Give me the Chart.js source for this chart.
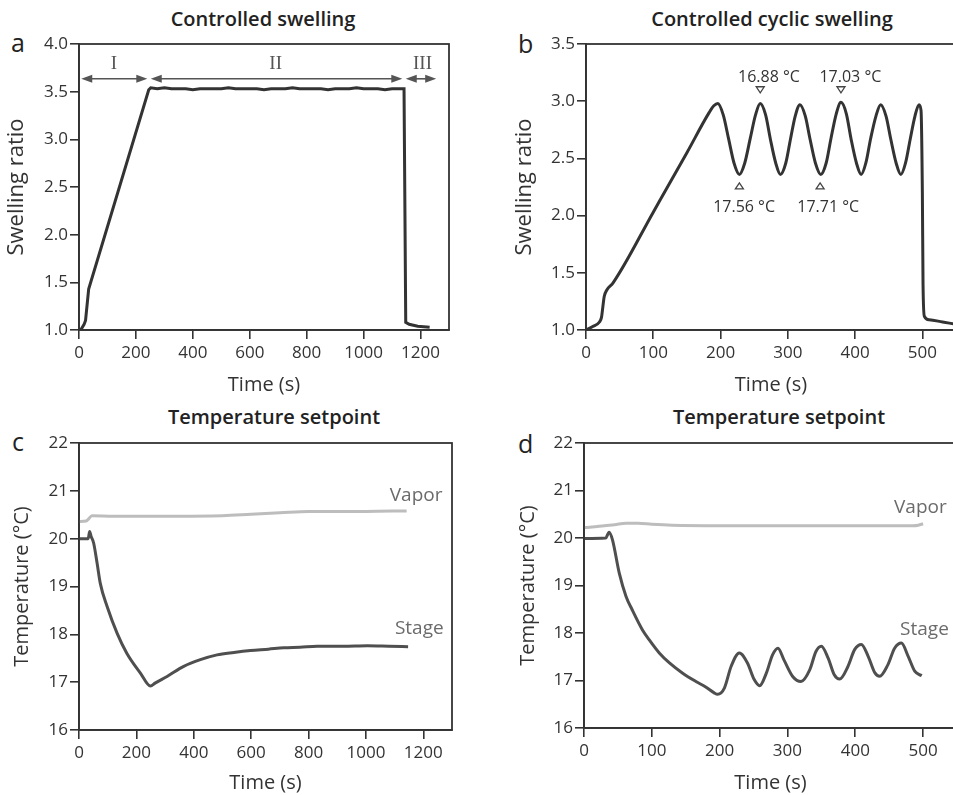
<!DOCTYPE html>
<html>
<head>
<meta charset="utf-8">
<title>Controlled swelling</title>
<script src="https://cdn.jsdelivr.net/npm/chart.js@4.4.1/dist/chart.umd.min.js"></script>
<style>
  html, body { margin: 0; padding: 0; width: 953px; height: 795px; overflow: hidden; background: #fff; }
  canvas { position: absolute; }
  .title { position: absolute; font: 600 20px "Open Sans", sans-serif; color: #222; line-height: 1; white-space: nowrap; transform: translateX(-50%); }
  .tag { position: absolute; font: 25px "Open Sans", sans-serif; color: #222; line-height: 1; }
</style>
</head>
<body>
<div class="tag" style="left:11px; top:30px">a</div>
<div class="tag" style="left:518px; top:31px">b</div>
<div class="tag" style="left:12px; top:429px">c</div>
<div class="tag" style="left:518px; top:431px">d</div>
<div class="title" style="left:263px; top:9px">Controlled swelling</div>
<div class="title" style="left:772px; top:9px">Controlled cyclic swelling</div>
<div class="title" style="left:274px; top:407px">Temperature setpoint</div>
<div class="title" style="left:779px; top:407px">Temperature setpoint</div>

<canvas id="chartA" width="476" height="398" style="left:0; top:0"></canvas>
<canvas id="chartB" width="500" height="398" style="left:476px; top:0"></canvas>
<canvas id="chartC" width="476" height="397" style="left:0; top:398px"></canvas>
<canvas id="chartD" width="500" height="397" style="left:476px; top:398px"></canvas>

<script>
// --- data: [time (s), value] ---
const swellA = [
  [0, 1.00], [8, 1.01], [18, 1.06], [23, 1.10], [34, 1.43], [245, 3.52], [252, 3.54],
  [275, 3.53], [300, 3.54], [325, 3.53], [350, 3.53], [375, 3.53], [400, 3.52], [425, 3.53],
  [450, 3.53], [475, 3.53], [500, 3.53], [525, 3.54], [550, 3.53], [575, 3.53], [600, 3.53],
  [625, 3.53], [650, 3.52], [675, 3.53], [700, 3.53], [725, 3.53], [750, 3.54], [775, 3.53],
  [800, 3.53], [825, 3.53], [850, 3.53], [875, 3.52], [900, 3.53], [925, 3.53], [950, 3.53],
  [975, 3.54], [1000, 3.53], [1025, 3.53], [1050, 3.53], [1075, 3.52], [1100, 3.53], [1125, 3.53],
  [1142, 3.53], [1148, 1.08], [1160, 1.06], [1190, 1.04], [1232, 1.03]
];

const swellB = [
  [0, 1.00], [10, 1.03], [20, 1.07], [23, 1.11], [25, 1.20], [27, 1.29], [31, 1.35], [40, 1.41],
  [100, 2.03], [150, 2.55], [183, 2.90], [190, 2.96], [196, 2.98],
  [204, 2.88], [212, 2.67], [220, 2.46], [228, 2.36],
  [236, 2.46], [244, 2.67], [252, 2.88], [259, 2.98],
  [267, 2.88], [274, 2.67], [282, 2.46], [289, 2.36],
  [297, 2.46], [304, 2.67], [311, 2.87], [318, 2.97],
  [326, 2.87], [333, 2.67], [341, 2.46], [349, 2.36],
  [357, 2.46], [364, 2.67], [372, 2.89], [379, 2.99],
  [387, 2.89], [394, 2.67], [402, 2.46], [409, 2.36],
  [416, 2.46], [423, 2.67], [431, 2.87], [438, 2.97],
  [446, 2.87], [453, 2.67], [461, 2.46], [468, 2.36],
  [475, 2.46], [482, 2.67], [489, 2.87], [495, 2.97], [498, 2.92],
  [500, 2.20], [501, 1.40], [503, 1.12], [510, 1.09], [530, 1.07], [550, 1.05]
];

const vaporC = [
  [0, 20.36], [25, 20.37], [33, 20.41], [45, 20.48], [120, 20.47], [300, 20.47], [500, 20.48],
  [600, 20.51], [700, 20.54], [800, 20.57], [1000, 20.57], [1142, 20.58]
];
const stageC = [
  [0, 20.00], [32, 20.00], [37, 20.15], [42, 20.05], [51, 19.91], [63, 19.49], [74, 19.07],
  [98, 18.58], [133, 18.02], [167, 17.60], [214, 17.19], [249, 16.92], [265, 16.98],
  [307, 17.12], [365, 17.33], [423, 17.47], [481, 17.57], [540, 17.62], [598, 17.66],
  [660, 17.69], [714, 17.72], [770, 17.73], [830, 17.75], [920, 17.75], [1005, 17.76],
  [1080, 17.75], [1147, 17.74]
];

const vaporD = [
  [0, 20.22], [12, 20.23], [30, 20.26], [45, 20.28], [62, 20.31], [80, 20.31], [100, 20.29],
  [130, 20.27], [200, 20.26], [300, 20.26], [400, 20.26], [485, 20.26], [493, 20.27], [500, 20.30]
];
const stageD = [
  [0, 19.99], [32, 20.00], [37, 20.12], [42, 19.96], [52, 19.26], [62, 18.77], [71, 18.49],
  [86, 18.07], [96, 17.86], [111, 17.58], [126, 17.37], [145, 17.16], [165, 16.98], [180, 16.86],
  [192, 16.74], [197, 16.71], [207, 16.84], [217, 17.30], [229, 17.58], [241, 17.37], [251, 17.02],
  [259, 16.89], [269, 17.16], [278, 17.54], [286, 17.68], [295, 17.43], [308, 17.08], [320, 16.98],
  [333, 17.23], [342, 17.61], [350, 17.72], [360, 17.47], [369, 17.12], [377, 17.03], [389, 17.29],
  [399, 17.65], [409, 17.76], [419, 17.51], [429, 17.16], [436, 17.09], [448, 17.33], [458, 17.68],
  [468, 17.79], [478, 17.51], [488, 17.19], [498, 17.10]
];

// tick labels
const ticksXLong = [0, 200, 400, 600, 800, 1000, 1200];
const ticksXShort = [0, 100, 200, 300, 400, 500];
const ticksYA = [1.0, 1.5, 2.0, 2.5, 3.0, 3.5, 4.0];
const ticksYB = [1.0, 1.5, 2.0, 2.5, 3.0, 3.5];
const ticksYTemp = [16, 17, 18, 19, 20, 21, 22];

// annotations (data coordinates)
const phasesA = [
  { from: 8, to: 240, label: 'I', at: 123 },
  { from: 252, to: 1136, label: 'II', at: 691 },
  { from: 1148, to: 1255, label: 'III', at: 1207 }
];
const phaseArrowY = 3.635;
const phaseLabelY = 3.79;

const markersB = [
  { x: 259, y: 3.10, dir: 'down', text: '16.88 °C', tx: 272, ty: 3.21 },
  { x: 379, y: 3.10, dir: 'down', text: '17.03 °C', tx: 393, ty: 3.21 },
  { x: 228, y: 2.26, dir: 'up', text: '17.56 °C', tx: 235, ty: 2.07 },
  { x: 348, y: 2.26, dir: 'up', text: '17.71 °C', tx: 360, ty: 2.07 }
];

const seriesLabelsC = [
  { text: 'Vapor', x: 1175, y: 20.9 },
  { text: 'Stage', x: 1186, y: 18.13 }
];
const seriesLabelsD = [
  { text: 'Vapor', x: 496, y: 20.64 },
  { text: 'Stage', x: 502, y: 18.08 }
];

// --- styling ---
const axisColor = '#333';
const textColor = '#333';
const lineDark = '#333';
const stageColor = '#4f4f4f';
const vaporColor = '#bdbdbd';
const labelGray = '#6b6b6b';
const fontFamily = "'Open Sans', sans-serif";

Chart.defaults.font.family = fontFamily;

const toPoints = arr => arr.map(([x, y]) => ({ x, y }));

const overlayPlugin = {
  id: 'overlay',
  afterDraw(chart, args, opts) {
    const { ctx, chartArea: area, scales: { x, y } } = chart;
    ctx.save();
    ctx.strokeStyle = axisColor;
    ctx.lineWidth = 1.8;
    ctx.strokeRect(area.left, area.top, area.right - area.left, area.bottom - area.top);

    (opts.arrows || []).forEach(ar => {
      const x1 = x.getPixelForValue(ar.from);
      const x2 = x.getPixelForValue(ar.to);
      const py = y.getPixelForValue(phaseArrowY);
      ctx.strokeStyle = '#555';
      ctx.fillStyle = '#555';
      ctx.lineWidth = 1.6;
      ctx.beginPath();
      ctx.moveTo(x1 + 6, py);
      ctx.lineTo(x2 - 6, py);
      ctx.stroke();
      [[x1, 1], [x2, -1]].forEach(([hx, d]) => {
        ctx.beginPath();
        ctx.moveTo(hx, py);
        ctx.lineTo(hx + d * 11, py - 4);
        ctx.lineTo(hx + d * 11, py + 4);
        ctx.closePath();
        ctx.fill();
      });
      ctx.font = "19px 'Liberation Serif', serif";
      ctx.textAlign = 'center';
      ctx.textBaseline = 'middle';
      ctx.fillText(ar.label, x.getPixelForValue(ar.at), y.getPixelForValue(phaseLabelY));
    });

    (opts.markers || []).forEach(m => {
      const px = x.getPixelForValue(m.x);
      const py = y.getPixelForValue(m.y);
      ctx.strokeStyle = '#444';
      ctx.lineWidth = 1.3;
      ctx.beginPath();
      if (m.dir === 'down') {
        ctx.moveTo(px - 4, py - 3);
        ctx.lineTo(px + 4, py - 3);
        ctx.lineTo(px, py + 3);
      } else {
        ctx.moveTo(px - 4, py + 3);
        ctx.lineTo(px + 4, py + 3);
        ctx.lineTo(px, py - 3);
      }
      ctx.closePath();
      ctx.stroke();
      ctx.fillStyle = textColor;
      ctx.font = '16px ' + fontFamily;
      ctx.textAlign = 'center';
      ctx.textBaseline = 'middle';
      ctx.fillText(m.text, x.getPixelForValue(m.tx), y.getPixelForValue(m.ty));
    });

    (opts.labels || []).forEach(l => {
      ctx.fillStyle = labelGray;
      ctx.font = '19px ' + fontFamily;
      ctx.textAlign = 'center';
      ctx.textBaseline = 'middle';
      ctx.fillText(l.text, x.getPixelForValue(l.x), y.getPixelForValue(l.y));
    });
    ctx.restore();
  }
};

function lineSet(points, color, smooth) {
  return {
    data: toPoints(points),
    borderColor: color,
    borderWidth: 3,
    pointRadius: 0,
    tension: 0,
    cubicInterpolationMode: smooth ? 'monotone' : 'default',
    fill: false
  };
}

function makeChart(id, p) {
  return new Chart(document.getElementById(id), {
    type: 'line',
    data: { datasets: p.datasets },
    plugins: [overlayPlugin],
    options: {
      responsive: false,
      animation: false,
      events: [],
      layout: { padding: { left: p.padLeft, right: p.padRight, top: p.padTop, bottom: 0 } },
      plugins: {
        legend: { display: false },
        tooltip: { enabled: false },
        overlay: p.overlay
      },
      scales: {
        x: {
          type: 'linear',
          min: 0,
          max: p.xMax,
          afterFit: s => { s.height = p.xHeight; },
          afterBuildTicks: s => { s.ticks = p.xTicks.map(v => ({ value: v })); },
          ticks: { color: textColor, font: { size: 17 }, padding: 4, maxRotation: 0, callback: v => String(v) },
          grid: { drawOnChartArea: false, tickLength: 9, color: axisColor, lineWidth: 1.6 },
          border: { color: axisColor, width: 1.8 },
          title: { display: true, text: 'Time (s)', color: textColor, font: { size: 20 }, padding: { top: 0, bottom: p.xTitlePad } }
        },
        y: {
          type: 'linear',
          min: p.yMin,
          max: p.yMax,
          afterFit: s => { s.width = p.yWidth; },
          afterBuildTicks: s => { s.ticks = p.yTicks.map(v => ({ value: v })); },
          ticks: { color: textColor, font: { size: 17 }, padding: 2, callback: p.yFormat },
          grid: { drawOnChartArea: false, tickLength: 9, color: axisColor, lineWidth: 1.6 },
          border: { color: axisColor, width: 1.8 },
          title: { display: true, text: p.yTitle, color: textColor, font: { size: p.yTitleSize }, padding: { top: p.yTitlePad, bottom: 0 } }
        }
      }
    }
  });
}

const oneDecimal = v => v.toFixed(1);
const whole = v => String(v);

makeChart('chartA', {
  datasets: [lineSet(swellA, lineDark, false)],
  padLeft: 0, padRight: 27, padTop: 44,
  xMax: 1300, xTicks: ticksXLong, xHeight: 68, xTitlePad: 1,
  yMin: 1, yMax: 4, yTicks: ticksYA, yWidth: 79, yTitlePad: 4, yFormat: oneDecimal,
  yTitle: 'Swelling ratio', yTitleSize: 22,
  overlay: { arrows: phasesA }
});

makeChart('chartB', {
  datasets: [lineSet(swellB, lineDark, true)],
  padLeft: 36, padRight: 20, padTop: 44,
  xMax: 550, xTicks: ticksXShort, xHeight: 68, xTitlePad: 1,
  yMin: 1, yMax: 3.5, yTicks: ticksYB, yWidth: 74, yTitlePad: 0, yFormat: oneDecimal,
  yTitle: 'Swelling ratio', yTitleSize: 22,
  overlay: { markers: markersB }
});

makeChart('chartC', {
  datasets: [lineSet(vaporC, vaporColor, true), lineSet(stageC, stageColor, true)],
  padLeft: 0, padRight: 24, padTop: 45,
  xMax: 1300, xTicks: ticksXLong, xHeight: 65, xTitlePad: 0,
  yMin: 16, yMax: 22, yTicks: ticksYTemp, yWidth: 79, yTitlePad: 10, yFormat: whole,
  yTitle: 'Temperature (°C)', yTitleSize: 20,
  overlay: { labels: seriesLabelsC }
});

makeChart('chartD', {
  datasets: [lineSet(vaporD, vaporColor, true), lineSet(stageD, stageColor, true)],
  padLeft: 36, padRight: 19, padTop: 45,
  xMax: 550, xTicks: ticksXShort, xHeight: 67, xTitlePad: 0,
  yMin: 16, yMax: 22, yTicks: ticksYTemp, yWidth: 72, yTitlePad: 4, yFormat: whole,
  yTitle: 'Temperature (°C)', yTitleSize: 20,
  overlay: { labels: seriesLabelsD }
});
</script>
</body>
</html>
